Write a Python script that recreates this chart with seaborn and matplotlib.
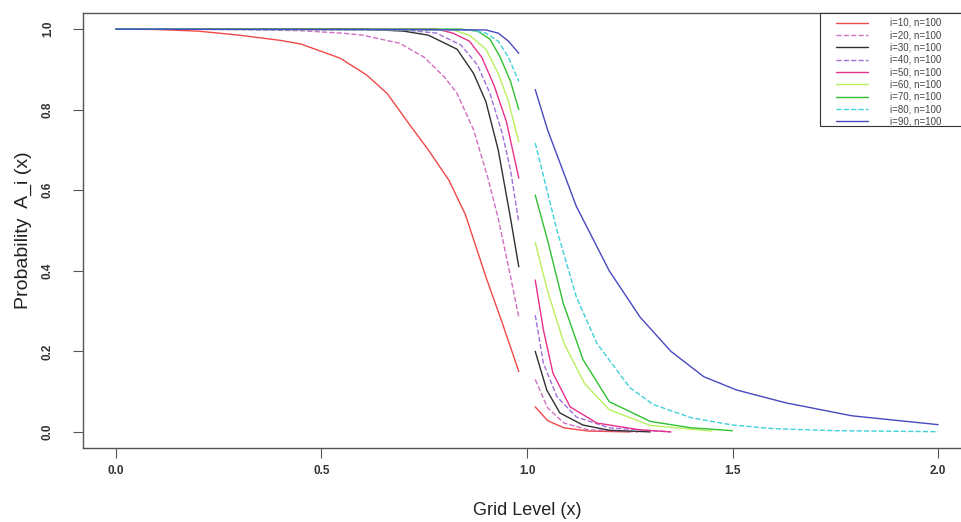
import numpy as np
import pandas as pd
import matplotlib
matplotlib.use("Agg")
import matplotlib.pyplot as plt
from matplotlib.patches import Rectangle
import seaborn as sns

# ---- data ----
labels = ["i=10, n=100", "i=20, n=100", "i=30, n=100", "i=40, n=100", "i=50, n=100",
          "i=60, n=100", "i=70, n=100", "i=80, n=100", "i=90, n=100"]

# left segments (x < 1)
x10_l = [0.0, 0.1, 0.2, 0.3, 0.4, 0.45, 0.545, 0.61, 0.66, 0.715, 0.76, 0.81, 0.85, 0.9, 0.94, 0.98]
y10_l = [1.0, 0.999, 0.995, 0.985, 0.972, 0.963, 0.928, 0.886, 0.84, 0.762, 0.70, 0.625, 0.54, 0.385, 0.27, 0.15]
x20_l = [0.0, 0.3, 0.45, 0.55, 0.6, 0.69, 0.75, 0.8, 0.83, 0.87, 0.905, 0.93, 0.955, 0.98]
y20_l = [1.0, 0.999, 0.996, 0.99, 0.985, 0.965, 0.93, 0.88, 0.84, 0.75, 0.63, 0.53, 0.41, 0.285]
x30_l = [0.0, 0.6, 0.7, 0.76, 0.83, 0.87, 0.9, 0.93, 0.96, 0.98]
y30_l = [1.0, 1.0, 0.995, 0.985, 0.95, 0.89, 0.82, 0.70, 0.53, 0.41]
x40_l = [0.0, 0.7, 0.78, 0.84, 0.88, 0.91, 0.94, 0.96, 0.98]
y40_l = [1.0, 0.998, 0.99, 0.96, 0.91, 0.84, 0.74, 0.65, 0.52]
x50_l = [0.0, 0.78, 0.82, 0.86, 0.89, 0.92, 0.95, 0.98]
y50_l = [1.0, 1.0, 0.99, 0.97, 0.93, 0.86, 0.77, 0.63]
x60_l = [0.0, 0.82, 0.86, 0.9, 0.93, 0.955, 0.98]
y60_l = [1.0, 0.998, 0.985, 0.95, 0.89, 0.82, 0.72]
x70_l = [0.0, 0.84, 0.88, 0.91, 0.935, 0.96, 0.98]
y70_l = [1.0, 1.0, 0.995, 0.975, 0.93, 0.87, 0.80]
x80_l = [0.0, 0.86, 0.9, 0.93, 0.955, 0.98]
y80_l = [1.0, 0.998, 0.99, 0.97, 0.93, 0.87]
x90_l = [0.0, 0.9, 0.93, 0.955, 0.98]
y90_l = [1.0, 0.998, 0.99, 0.97, 0.94]

# right segments (x > 1)
x10_r = [1.02, 1.05, 1.09, 1.15, 1.25]
y10_r = [0.062, 0.028, 0.01, 0.002, 0.0]
x20_r = [1.02, 1.05, 1.09, 1.15, 1.27]
y20_r = [0.13, 0.06, 0.022, 0.005, 0.0]
x30_r = [1.02, 1.048, 1.08, 1.136, 1.2, 1.3]
y30_r = [0.20, 0.104, 0.047, 0.017, 0.004, 0.0]
x40_r = [1.02, 1.04, 1.073, 1.12, 1.2, 1.35]
y40_r = [0.29, 0.17, 0.087, 0.037, 0.01, 0.0]
x50_r = [1.02, 1.04, 1.063, 1.105, 1.17, 1.275, 1.35]
y50_r = [0.377, 0.253, 0.146, 0.062, 0.022, 0.005, 0.0]
x60_r = [1.02, 1.05, 1.09, 1.14, 1.2, 1.3, 1.45]
y60_r = [0.47, 0.35, 0.22, 0.12, 0.055, 0.016, 0.002]
x70_r = [1.02, 1.05, 1.088, 1.136, 1.2, 1.3, 1.4, 1.5]
y70_r = [0.588, 0.476, 0.32, 0.18, 0.075, 0.026, 0.01, 0.003]
x80_r = [1.02, 1.073, 1.12, 1.17, 1.25, 1.307, 1.4, 1.5, 1.6, 1.75, 2.0]
y80_r = [0.717, 0.50, 0.335, 0.22, 0.11, 0.068, 0.035, 0.017, 0.008, 0.003, 0.0005]
x90_r = [1.02, 1.05, 1.12, 1.2, 1.275, 1.35, 1.43, 1.51, 1.63, 1.79, 2.0]
y90_r = [0.85, 0.75, 0.56, 0.40, 0.285, 0.20, 0.137, 0.104, 0.072, 0.04, 0.018]

x_ticks = [0.0, 0.5, 1.0, 1.5, 2.0]
y_ticks = [0.0, 0.2, 0.4, 0.6, 0.8, 1.0]

# ---- styles ----
colors = ["#f04848", "#d070c0", "#303030", "#a070d8", "#e8308c",
          "#b8f060", "#30c030", "#40d0d8", "#4848c0"]
styles = ["-", "--", "-", "--", "-", "-", "-", "--", "-"]

left = [(x10_l, y10_l), (x20_l, y20_l), (x30_l, y30_l), (x40_l, y40_l), (x50_l, y50_l),
        (x60_l, y60_l), (x70_l, y70_l), (x80_l, y80_l), (x90_l, y90_l)]
right = [(x10_r, y10_r), (x20_r, y20_r), (x30_r, y30_r), (x40_r, y40_r), (x50_r, y50_r),
         (x60_r, y60_r), (x70_r, y70_r), (x80_r, y80_r), (x90_r, y90_r)]

sns.set_theme(style="white")
plt.rcParams['font.family'] = ['Liberation Sans', 'DejaVu Sans']

fig = plt.figure(figsize=(9.61, 5.22), dpi=100)
W, H = 961, 522
ax = fig.add_axes([83 / W, (H - 448) / H, (971 - 83) / W, (448 - 13) / H])

for k in range(9):
    lx, ly = left[k]
    rx, ry = right[k]
    sns.lineplot(x=lx, y=ly, ax=ax, color=colors[k], linestyle=styles[k],
                 linewidth=1.0, label=labels[k], sort=True)
    sns.lineplot(x=rx, y=ry, ax=ax, color=colors[k], linestyle=styles[k],
                 linewidth=1.0, label=None, sort=True)

ax.set_xlim(-0.08, 2.08)
ax.set_ylim(-0.04, 1.04)
ax.set_xticks(x_ticks)
ax.set_xticklabels([f"{v:.1f}" for v in x_ticks], fontsize=8.5, color="#333333", fontweight="bold")
ax.set_yticks(y_ticks)
ax.set_yticklabels([f"{v:.1f}" for v in y_ticks], fontsize=8.5, color="#333333",
                   rotation=90, va="center", fontweight="bold")
ax.tick_params(axis="both", direction="out", length=7, width=0.8, color="#555555",
               bottom=True, left=True)
ax.tick_params(axis="x", pad=5)
ax.tick_params(axis="y", pad=14)
for s in ax.spines.values():
    s.set_color("#555555")
    s.set_linewidth(1.0)
    s.set_visible(True)

ax.set_xlabel("Grid Level (x)", fontsize=13, color="#222222", labelpad=18)
ax.set_ylabel("Probability  A_i (x)", fontsize=14, color="#222222", labelpad=7)

# legend: box drawn as in the reference (it runs off the right edge), frameless legend on top
box = Rectangle((820 / W, (H - 126) / H), (975 - 820) / W, (126 - 13) / H,
                transform=fig.transFigure, fill=True, facecolor="white",
                edgecolor="#333333", linewidth=0.8, zorder=4, clip_on=False)
ax.add_patch(box)
leg = ax.legend(loc="upper left", bbox_to_anchor=(833 / W, (H - 15) / H),
                bbox_transform=fig.transFigure, borderaxespad=0.0,
                fontsize=7, frameon=False, handlelength=3.3,
                handletextpad=2.3, labelspacing=0.24, borderpad=0.3)
leg.set_zorder(6)
for t in leg.get_texts():
    t.set_color("#444444")

fig.savefig("out.png", dpi=100)
